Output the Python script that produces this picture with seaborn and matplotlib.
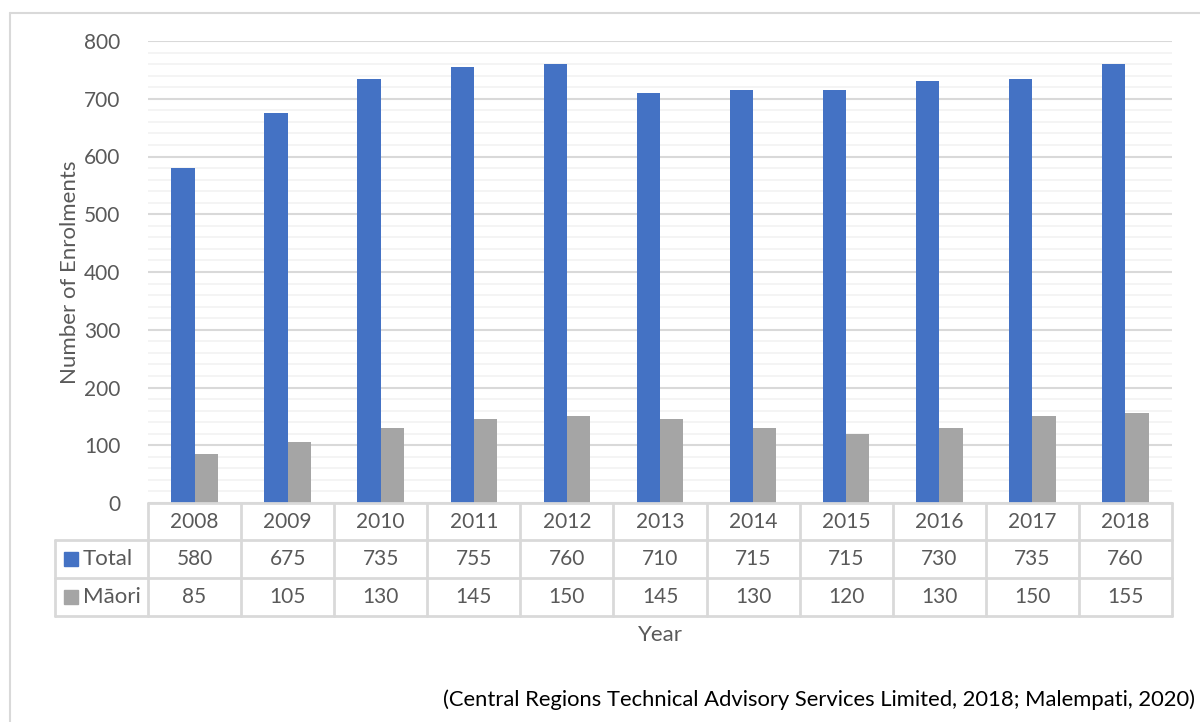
import matplotlib.pyplot as plt
import matplotlib.transforms as mtransforms
from matplotlib.patches import Rectangle
from matplotlib.lines import Line2D
import seaborn as sns
import pandas as pd

# Data
years = ['2008', '2009', '2010', '2011', '2012', '2013', '2014', '2015', '2016', '2017', '2018']
total = [580, 675, 735, 755, 760, 710, 715, 715, 730, 735, 760]
maori = [85, 105, 130, 145, 150, 145, 130, 120, 130, 150, 155]
series_names = ['Total', 'Māori']
colors = ['#4472C4', '#A5A5A5']
source = '(Central Regions Technical Advisory Services Limited, 2018; Malempati, 2020)'

df = pd.DataFrame({
    'Year': years * 2,
    'Enrolments': total + maori,
    'Series': [series_names[0]] * len(years) + [series_names[1]] * len(years),
})

sns.set_style('white')
plt.rcParams['font.family'] = ['Lato', 'DejaVu Sans']

txt = '#595959'
grid_major = '#D9D9D9'
grid_minor = '#F2F2F2'
num_fs = 15   # numbers
lab_fs = 16   # words

fig = plt.figure(figsize=(12, 7.22), dpi=100)
ax = fig.add_axes([148 / 1200, 1 - 503 / 722, 1024 / 1200, 462 / 722])

sns.barplot(data=df, x='Year', y='Enrolments', hue='Series', palette=colors, saturation=1,
            width=0.5, legend=False, ax=ax, zorder=3, edgecolor='none')

ax.set_ylim(0, 800)
ax.set_xlim(-0.5, len(years) - 0.5)
ax.set_yticks(range(0, 801, 100))
ax.set_yticks(range(0, 801, 20), minor=True)
ax.grid(axis='y', which='major', color=grid_major, lw=1.5, zorder=1)
ax.grid(axis='y', which='minor', color=grid_minor, lw=1.2, zorder=0)
ax.tick_params(axis='y', which='both', length=0, pad=20, labelsize=num_fs, labelcolor=txt)
ax.tick_params(axis='x', length=0, labelbottom=False)
for s in ax.spines.values():
    s.set_visible(False)
ax.set_xlabel('')
ax.set_ylabel('Number of Enrolments', fontsize=lab_fs, color=txt)
ax.yaxis.set_label_coords(-0.066, 0.5)

# Data table under the plot
trans = mtransforms.blended_transform_factory(ax.transData, ax.transAxes)
row_edges = [0, -37 / 462, -75 / 462, -113 / 462]
left_col = -93 / 1024
n = len(years)
lkw = dict(color=grid_major, lw=2, clip_on=False, zorder=5)

# horizontal lines
ax.add_line(Line2D([-0.5, n - 0.5], [row_edges[0]] * 2, transform=trans, **lkw))
for y in row_edges[1:]:
    ax.add_line(Line2D([left_col, 1], [y, y], transform=ax.transAxes, **lkw))
# vertical lines
for i in range(n + 1):
    ax.add_line(Line2D([i - 0.5, i - 0.5], [row_edges[0], row_edges[3]], transform=trans, **lkw))
ax.add_line(Line2D([left_col, left_col], [row_edges[1], row_edges[3]], transform=ax.transAxes, **lkw))

row_centers = [(row_edges[k] + row_edges[k + 1]) / 2 for k in range(3)]
for i, yr in enumerate(years):
    ax.text(i, row_centers[0], yr, transform=trans, ha='center', va='center', fontsize=num_fs, color=txt)
    ax.text(i, row_centers[1], str(total[i]), transform=trans, ha='center', va='center', fontsize=num_fs, color=txt)
    ax.text(i, row_centers[2], str(maori[i]), transform=trans, ha='center', va='center', fontsize=num_fs, color=txt)

for k, (name, c) in enumerate(zip(series_names, colors)):
    yc = row_centers[k + 1]
    ax.add_patch(Rectangle((-84 / 1024, yc - 7 / 462), 14 / 1024, 14 / 462,
                           transform=ax.transAxes, color=c, clip_on=False, zorder=6))
    ax.text(-65 / 1024, yc, name, transform=ax.transAxes, ha='left', va='center',
            fontsize=lab_fs, color=txt)

ax.text(0.5, -132 / 462, 'Year', transform=ax.transAxes, ha='center', va='center',
        fontsize=lab_fs, color=txt)

# outer chart border and source note
fig.add_artist(Line2D([10 / 1200, 1], [1 - 13 / 722] * 2, transform=fig.transFigure, color=grid_major, lw=1.5))
fig.add_artist(Line2D([10 / 1200, 10 / 1200], [0, 1 - 13 / 722], transform=fig.transFigure, color=grid_major, lw=1.5))
fig.text(1195 / 1200, 1 - 700 / 722, source, ha='right', va='center', fontsize=15.8, color='black')

fig.savefig('out.png', dpi=100)
